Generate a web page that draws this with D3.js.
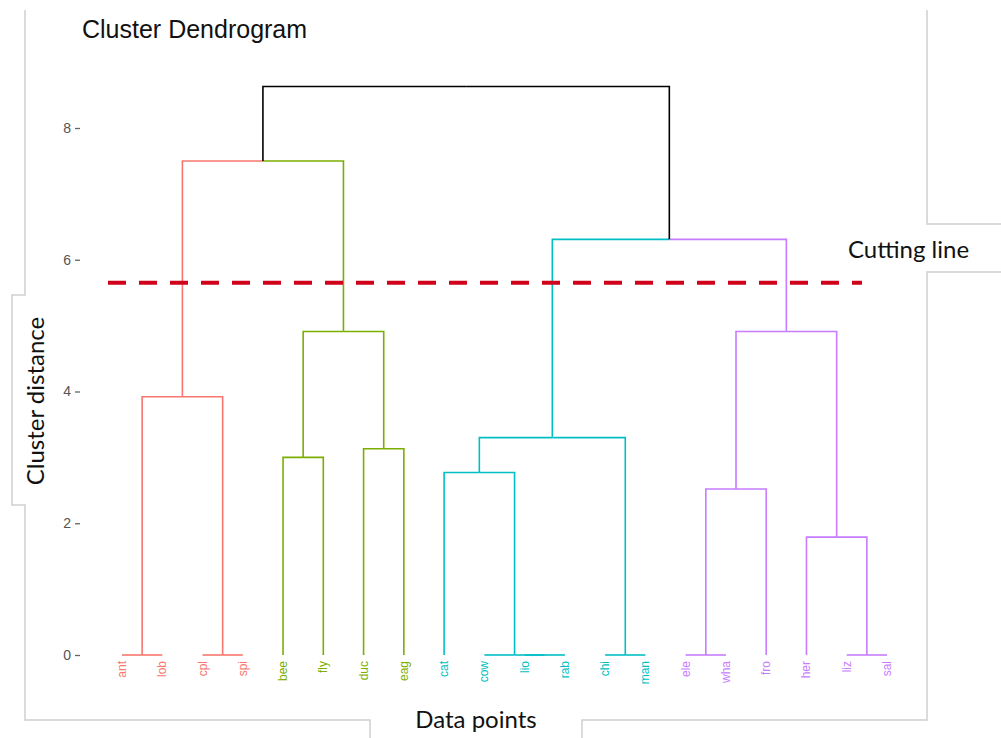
<!DOCTYPE html>
<html>
<head>
<meta charset="utf-8">
<script src="https://cdn.jsdelivr.net/npm/d3@7"></script>
<style>
  body { margin: 0; background: #fff; }
  svg { display: block; }
</style>
</head>
<body>
<div id="chart"></div>
<script>
// leaf order as drawn, and which cluster each leaf falls into
const labels = ["ant", "lob", "cpl", "spi", "bee", "fly", "duc", "eag", "cat", "cow",
                "lio", "rab", "chi", "man", "ele", "wha", "fro", "her", "liz", "sal"];
const clusterOf = [1, 1, 1, 1, 2, 2, 2, 2, 3, 3, 3, 3, 3, 3, 4, 4, 4, 4, 4, 4];

// hclust style merges: negative = leaf (1-based), positive = earlier merge (1-based)
const merges = [
  [-1, -2], [-3, -4], [-11, -12], [-10, 3], [-13, -14], [-15, -16], [-19, -20],
  [-18, 7], [6, -17], [-9, 4], [-5, -6], [-7, -8], [10, 5], [1, 2],
  [11, 12], [9, 8], [13, 16], [14, 15], [18, 17]
];
const heights = [0, 0, 0, 0, 0, 0, 0, 1.79, 2.52, 2.77, 3.0, 3.13, 3.30, 3.92,
                 4.91, 4.91, 6.31, 7.5, 8.63];

const yTicks = [0, 2, 4, 6, 8];
const cutHeight = 5.65;
const clusterColors = ["#F8766D", "#7CAE00", "#00BFC4", "#C77CFF"];

const W = 1001, H = 738;
const svg = d3.select("#chart").append("svg").attr("width", W).attr("height", H);

const x = d3.scalePoint().domain(labels).range([122, 887]);
const y = d3.scaleLinear().domain([0, 8]).range([655, 128]);

// frame of the pasted screenshot
const frame = [[25, 10], [25, 295], [12, 295], [12, 505], [25, 505], [25, 720], [370, 720], [370, 738]];
const frame2 = [[582, 738], [582, 720], [927, 720], [927, 272], [1001, 272]];
const frame3 = [[1001, 224], [927, 224], [927, 10]];
[frame, frame2, frame3].forEach(f => {
  svg.append("path").attr("d", d3.line()(f))
    .attr("fill", "none").attr("stroke", "#cfcfcf").attr("stroke-width", 1.5);
});

// compute node positions
const nodes = [];
function info(id) {
  if (id < 0) {
    const i = -id - 1;
    return { x: x(labels[i]), h: 0, cl: clusterOf[i] };
  }
  return nodes[id - 1];
}
merges.forEach((m, i) => {
  const a = info(m[0]), b = info(m[1]);
  nodes.push({
    x: (a.x + b.x) / 2, h: heights[i],
    cl: a.cl === b.cl ? a.cl : 0, a: a, b: b
  });
});

const g = svg.append("g");
nodes.forEach(n => {
  [n.a, n.b].forEach(c => {
    g.append("path")
      .attr("d", d3.line()([[c.x, y(c.h)], [c.x, y(n.h)], [n.x, y(n.h)]]))
      .attr("fill", "none")
      .attr("stroke", c.cl ? clusterColors[c.cl - 1] : "#000")
      .attr("stroke-width", 1.6);
  });
});

// y axis
const yAxis = svg.append("g").attr("transform", "translate(80,0)")
  .call(d3.axisLeft(y).tickValues(yTicks).tickSize(5).tickPadding(4));
yAxis.select(".domain").remove();
yAxis.selectAll("line").attr("stroke", "#666").attr("stroke-width", 1.3);
yAxis.selectAll("text").attr("fill", "#555")
  .style("font-family", "Liberation Sans, Arial, sans-serif").style("font-size", "14px");

// leaf labels
svg.append("g").selectAll("text").data(labels).enter().append("text")
  .attr("transform", d => `translate(${x(d) + 4},661) rotate(-90)`)
  .attr("text-anchor", "end")
  .attr("fill", (d, i) => clusterColors[clusterOf[i] - 1])
  .style("font-family", "Liberation Sans, Arial, sans-serif")
  .style("font-size", "12px")
  .text(d => d);

// cutting line
svg.append("line")
  .attr("x1", 108).attr("x2", 862)
  .attr("y1", y(cutHeight)).attr("y2", y(cutHeight))
  .attr("stroke", "#D0021B").attr("stroke-width", 4)
  .attr("stroke-dasharray", "18,13");

// texts
svg.append("text").attr("x", 82).attr("y", 38)
  .style("font-family", "Liberation Sans, Arial, sans-serif").style("font-size", "25px")
  .attr("fill", "#111").text("Cluster Dendrogram");

const calib = "Lato, 'Open Sans', sans-serif";
svg.append("text").attr("x", 848).attr("y", 258)
  .style("font-family", calib).style("font-size", "24px").attr("fill", "#111")
  .text("Cutting line");

svg.append("text").attr("x", 476).attr("y", 728).attr("text-anchor", "middle")
  .style("font-family", calib).style("font-size", "24px").attr("fill", "#111")
  .text("Data points");

svg.append("text").attr("transform", "translate(44,401) rotate(-90)")
  .attr("text-anchor", "middle")
  .style("font-family", calib).style("font-size", "24px").attr("fill", "#111")
  .text("Cluster distance");
</script>
</body>
</html>
